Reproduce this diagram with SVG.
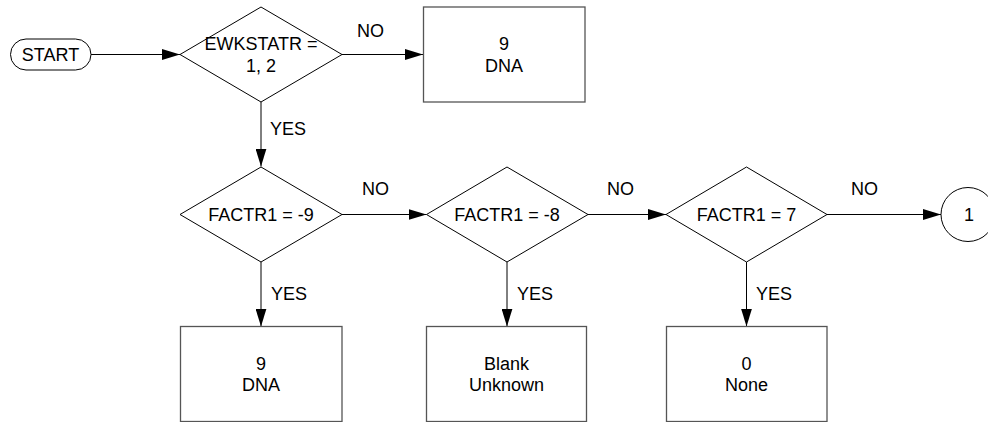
<svg xmlns="http://www.w3.org/2000/svg" width="988" height="422" viewBox="0 0 988 422">
  <defs>
    <marker id="arrow" markerUnits="userSpaceOnUse" markerWidth="18" markerHeight="11" refX="18" refY="5.5" orient="auto">
      <path d="M0,0 L18,5.5 L0,11 z" fill="#000"/>
    </marker>
    <style>
      .shape { fill: #fff; stroke: #000; stroke-width: 1; }
      .box { fill: #fff; stroke: #555; stroke-width: 1.3; }
      .t { font-family: "Liberation Sans", Arial, sans-serif; font-size: 18px; fill: #000; text-anchor: middle; }
      .lbl { font-family: "Liberation Sans", Arial, sans-serif; font-size: 18px; fill: #000; }
      .conn { fill: none; stroke: #000; stroke-width: 1; marker-end: url(#arrow); }
    </style>
  </defs>
  <rect width="988" height="422" fill="#fff"/>

  <g id="connectors">
    <line class="conn" x1="91" y1="54.5" x2="180" y2="54.5"/>
    <line class="conn" x1="342" y1="54.5" x2="423" y2="54.5"/>
    <line class="conn" x1="261" y1="102" x2="261" y2="166.5"/>
    <line class="conn" x1="342" y1="214.5" x2="426.5" y2="214.5"/>
    <line class="conn" x1="588" y1="214.5" x2="666" y2="214.5"/>
    <line class="conn" x1="827" y1="214.5" x2="941" y2="214.5"/>
    <line class="conn" x1="261" y1="262" x2="261" y2="326.5"/>
    <line class="conn" x1="507" y1="262" x2="507" y2="326.5"/>
    <line class="conn" x1="746.5" y1="262" x2="746.5" y2="326.5"/>
    <text class="lbl" x="357" y="37">NO</text>
    <text class="lbl" x="270" y="135">YES</text>
    <text class="lbl" x="362" y="195">NO</text>
    <text class="lbl" x="607" y="195">NO</text>
    <text class="lbl" x="851" y="195">NO</text>
    <text class="lbl" x="271" y="300">YES</text>
    <text class="lbl" x="517" y="300">YES</text>
    <text class="lbl" x="756" y="300">YES</text>
  </g>

  <g id="start">
    <rect class="shape" x="10.5" y="39" width="80.5" height="31" rx="15.5" ry="15.5"/>
    <text class="t" x="50.5" y="61">START</text>
  </g>

  <g id="d_ewkstatr">
    <polygon class="shape" points="261,7 342,54.5 261,102 180,54.5"/>
    <text class="t" x="261" y="50">EWKSTATR =</text>
    <text class="t" x="261" y="71.5">1, 2</text>
  </g>

  <g id="box_dna_top">
    <rect class="box" x="423.5" y="7" width="161.5" height="95"/>
    <text class="t" x="504" y="50">9</text>
    <text class="t" x="504" y="71.5">DNA</text>
  </g>

  <g id="d_factr_m9">
    <polygon class="shape" points="261,167 342,214.5 261,262 180,214.5"/>
    <text class="t" x="261" y="221">FACTR1 = -9</text>
  </g>

  <g id="d_factr_m8">
    <polygon class="shape" points="507,167 588,214.5 507,262 426.5,214.5"/>
    <text class="t" x="507" y="221">FACTR1 = -8</text>
  </g>

  <g id="d_factr_7">
    <polygon class="shape" points="746.5,167 827,214.5 746.5,262 666,214.5"/>
    <text class="t" x="746.5" y="221">FACTR1 = 7</text>
  </g>

  <g id="connector_1">
    <circle class="shape" cx="968" cy="214.5" r="27"/>
    <text class="t" x="969" y="221">1</text>
  </g>

  <g id="box_dna_bottom">
    <rect class="box" x="180.5" y="326.5" width="161.5" height="95"/>
    <text class="t" x="261" y="369.5">9</text>
    <text class="t" x="261" y="391">DNA</text>
  </g>

  <g id="box_blank">
    <rect class="box" x="426.5" y="326.5" width="160" height="95"/>
    <text class="t" x="506.5" y="369.5">Blank</text>
    <text class="t" x="506.5" y="391">Unknown</text>
  </g>

  <g id="box_none">
    <rect class="box" x="666.5" y="326.5" width="160.5" height="95"/>
    <text class="t" x="746.5" y="369.5">0</text>
    <text class="t" x="746.5" y="391">None</text>
  </g>
</svg>
